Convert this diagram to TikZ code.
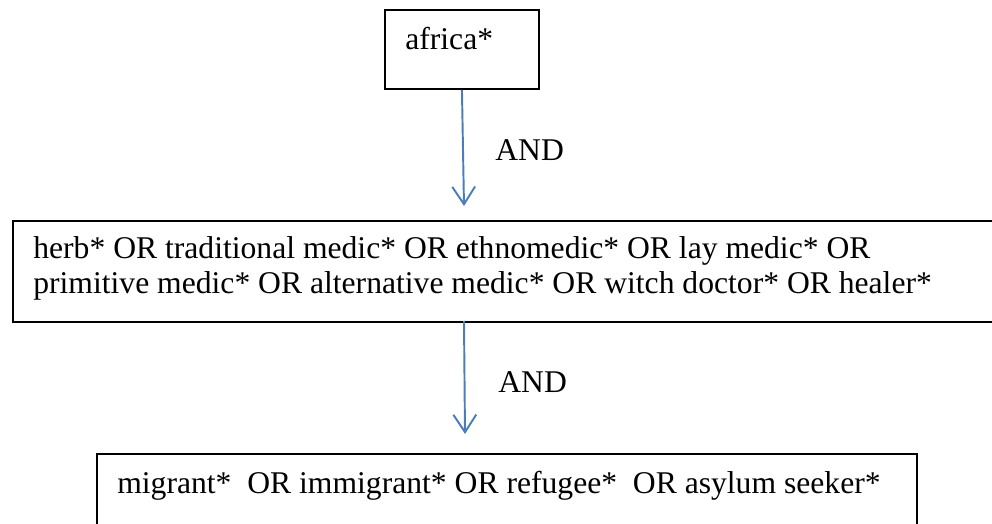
\documentclass[tikz,border=0pt]{standalone}
\usepackage{fontspec}
\setmainfont{Liberation Serif}
\usetikzlibrary{arrows.meta}
\definecolor{linkblue}{RGB}{74,126,187}

\begin{document}
\begin{tikzpicture}[x=0.02cm, y=-0.02cm, >={Straight Barb[length=10pt, width=13pt]},
    box/.style={draw, line width=1.1pt, inner sep=0pt, anchor=north west},
    txt/.style={font=\fontsize{18}{19.8}\selectfont, inner sep=0pt, anchor=base west, align=left},
    link/.style={->, linkblue, line width=1.1pt}]
        \useasboundingbox (0,0) rectangle (992,524);
        \clip (0,0) rectangle (992,524);

        % Boxes
        \node[box, minimum width=3.08cm, minimum height=1.58cm] (africa) at (384,9) {};
        \node[box, minimum width=20cm, minimum height=2.02cm] (healer) at (12,220) {};
        \node[box, minimum width=16.4cm, minimum height=3.0cm] (migrant) at (96,453) {};

        % Box texts (base = last line)
        \node[txt] (t1) at (405,50) {africa*};
        \node[txt] (t2) at (33,293) {herb* OR traditional medic* OR ethnomedic* OR lay medic* OR\\primitive medic* OR alternative medic* OR witch doctor* OR healer*};
        \node[txt] (t3) at (117,493) {migrant*\ \ OR immigrant* OR refugee*\ \ OR asylum seeker*};

        % Links
        \coordinate (end1) at (464,206);
        \coordinate (start2) at (464,321);
        \coordinate (end2) at (465,434);
        \draw[link] (africa.south) -- (end1);
        \draw[link] (start2) -- (end2);
        \node[txt] (and1) at (495,160) {AND};
        \node[txt] (and2) at (498,392) {AND};
\end{tikzpicture}
\end{document}
